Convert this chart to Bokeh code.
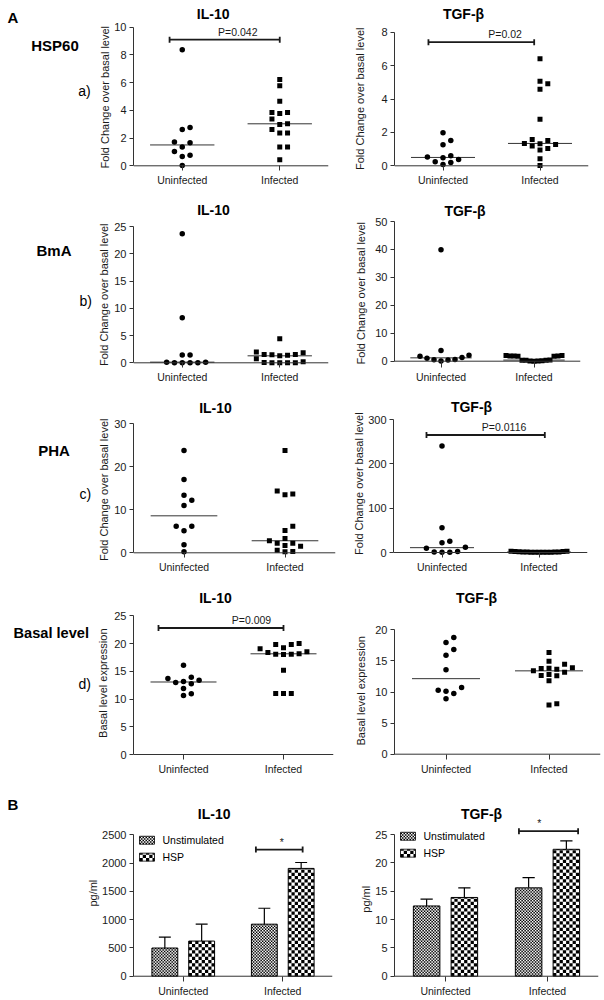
import math
import numpy as np
from bokeh.plotting import figure
from bokeh.layouts import column, row
from bokeh.models import Range1d, FactorRange, FixedTicker, Span
from bokeh.core.properties import value
from bokeh.embed import file_html
from bokeh.resources import INLINE

# ---------------------------------------------------------------- data
groups = ["Uninfected", "Infected"]

# a) HSP60 stimulation - fold change over basal level
hsp_il10_uninf = [8.37, 2.76, 2.62, 1.71, 1.66, 1.35, 1.03, 0.77, 0.67, 0.02]
hsp_il10_inf = [6.23, 5.77, 4.66, 3.85, 3.77, 3.85, 3.37, 3.03, 2.98, 2.62,
                2.36, 2.36, 1.35, 1.35, 0.43]
hsp_tgf_uninf = [1.98, 1.52, 1.26, 0.60, 0.48, 0.52, 0.38, 0.24, 0.20, 0.08]
hsp_tgf_inf = [6.41, 5.07, 4.91, 4.59, 2.79, 1.58, 1.52, 1.34, 1.28, 1.32,
               1.18, 1.04, 0.94, 0.42, 0.02]

# b) BmA stimulation
bma_il10_uninf = [23.65, 8.25, 1.41, 1.41, 0.12, 0.0, 0.0, 0.0, 0.0, 0.12]
bma_il10_inf = [4.4, 1.96, 1.83, 1.53, 1.5, 1.47, 1.4, 1.28, 0.73, 0.2,
                0.06, 0.0, 0.0, 0.0, 0.0]
bma_tgf_uninf = [39.9, 3.8, 2.1, 1.8, 1.3, 1.1, 0.6, 0.5, 0.4, 0.1]
bma_tgf_inf = [1.9, 1.8, 2.0, 1.9, 1.8, 1.9, 2.0, 0.3, 0.1, 0.0,
               0.2, 0.4, 0.3, 0.1, 0.36]

# c) PHA stimulation
pha_il10_uninf = [23.8, 17.05, 13.4, 12.25, 11.0, 6.2, 6.2, 5.1, 1.9, 0.23]
pha_il10_inf = [23.8, 14.4, 13.7, 13.5, 6.2, 5.2, 3.3, 2.8, 2.25, 2.25,
                1.7, 1.55, 0.62, 0.3, 0.23]
pha_tgf_uninf = [240, 56, 25.6, 21.8, 12.0, 9.8, 2.0, 1.0, 0.5, 0.8]
pha_tgf_inf = [3.0, 2.5, 1.5, 1.0, 0.8, 0.5, 1.2, 0.6, 0.9, 0.4,
               1.1, 0.7, 0.5, 2.0, 2.8]

# d) basal level expression
basal_il10_uninf = [16.1, 13.94, 13.4, 12.98, 12.74, 13.16, 13.7, 11.9, 10.94, 10.64]
basal_il10_inf = [20.0, 19.83, 19.83, 19.23, 19.05, 18.39, 18.09, 18.03, 18.09, 18.15,
                  18.5, 15.2, 11.0, 11.0, 11.0]
basal_tgf_uninf = [18.77, 17.96, 16.84, 15.92, 13.57, 10.72, 10.29, 10.13, 9.76, 8.9]
basal_tgf_inf = [16.35, 14.96, 14.48, 13.89, 13.67, 13.78, 13.83, 13.19, 13.4, 12.82,
                 12.6, 12.65, 11.8, 8.1, 7.9]

# B) cytokine levels (pg/ml), mean and SEM
series = ["Unstimulated", "HSP"]
il10_unstim_mean = [499, 921]
il10_unstim_sem = [193, 282]
il10_hsp_mean = [622, 1908]
il10_hsp_sem = [300, 105]
tgf_unstim_mean = [12.4, 15.6]
tgf_unstim_sem = [1.2, 1.8]
tgf_hsp_mean = [13.9, 22.4]
tgf_hsp_sem = [1.7, 1.5]

# significance annotations: (row, col) -> (from, to, level, text, text position)
sig_marks = {
    (0, 0): (0.37, 1.50, 9.1, "P=0.042", 1.07),
    (0, 1): (0.35, 1.44, 7.4, "P=0.02", 1.14),
    (2, 1): (0.34, 1.56, 265, "P=0.0116", 1.14),
    (3, 0): (0.25, 1.50, 22.8, "P=0.009", 1.18),
    (4, 0): (1.23, 1.70, 2242, "*", 1.49),
    (4, 1): (1.22, 1.80, 25.6, "*", 1.42),
}

# ---------------------------------------------------------------- style / layout
FONT = "Liberation Sans"
INK = "#1a1a1a"
AXC = "#333333"
ROWS = [0, 190, 385, 575, 778, 999]
FRAME_TOP = [0, 195, 392, 583, 790]
FRAME_BOT = [169, 366, 556, 758, 981]
LABEL_W = [92, 92, 92, 92, 60]
SPLIT, RIGHT = 345, 603
FC = "Fold Change over basal level"
BL = "Basal level expression"
NBSP = "\u00a0"


def base_fig(width, height, x_range, y_range, bl, br, bt, bb, axes=True):
    kw = {} if axes else dict(x_axis_location=None, y_axis_location=None)
    p = figure(width=width, height=height, x_range=x_range, y_range=y_range,
               min_border_left=bl, min_border_right=br, min_border_top=bt,
               min_border_bottom=bb, output_backend="svg", toolbar_location=None, **kw)
    p.outline_line_color = None
    p.grid.visible = False
    p.background_fill_color = "white"
    p.border_fill_color = "white"
    return p


def make_panel(r, c, fl, fr, y0, ytop, top, step, ylabel, lab_cx, lab_cy):
    rt, rb = ROWS[r], ROWS[r + 1]
    ft, fb = FRAME_TOP[r], FRAME_BOT[r]
    fig_l, fig_r = (LABEL_W[r], SPLIT) if c == 0 else (SPLIT, RIGHT)
    fl = int(round(fl))
    fr = int(round(min(fr, fig_r - 2)))
    ppu_y = (y0 - ytop) / top
    ppu_x = (fr - fl) / 2.0
    p = base_fig(fig_r - fig_l, rb - rt, FactorRange(factors=groups),
                 Range1d(-(fb - y0) / ppu_y, top + (ytop - ft) / ppu_y),
                 fl - fig_l, fig_r - fr, ft - rt, rb - fb)

    ya = p.yaxis[0]
    ya.bounds = (0, top)
    ya.ticker = FixedTicker(ticks=list(range(0, top + 1, step)))
    ya.major_tick_out = 4
    ya.major_tick_in = 0
    ya.minor_tick_line_color = None
    ya.axis_line_color = AXC
    ya.major_tick_line_color = AXC
    ya.major_label_text_font = FONT
    ya.major_label_text_font_size = "11px"
    ya.major_label_text_color = INK
    ya.major_label_standoff = 3
    # the axis label is centred on the frame: pad it so that it sits where the reference has it
    shift = lab_cy - (ft + fb) / 2.0
    n = int(round(2 * abs(shift) / (0.278 * 11)))
    ya.axis_label = ylabel + NBSP * n if shift > 0 else NBSP * n + ylabel
    ya.axis_label_text_font = FONT
    ya.axis_label_text_font_size = "11px"
    ya.axis_label_text_font_style = "normal"
    ya.axis_label_text_color = INK
    w = 0.556 * 11 * len(str(top))
    ya.axis_label_standoff = max(0, int(round((fl - lab_cx) - 13.5 - w)))

    xa = p.xaxis[0]
    xa.axis_line_color = None
    xa.major_tick_in = fb - int(round(y0))
    xa.major_tick_out = 1
    xa.major_tick_line_color = AXC
    xa.minor_tick_line_color = None
    xa.major_label_text_font = FONT
    xa.major_label_text_font_size = "10.5px"
    xa.major_label_text_font_style = "normal"
    xa.major_label_text_color = INK
    xa.major_label_standoff = 3
    p.add_layout(Span(location=0, dimension="width", line_color=AXC, line_width=1))
    geo = dict(fl=fl, y0=y0, ppu_x=ppu_x, ppu_y=ppu_y)
    return p, geo


def make_label_fig(r):
    rt, rb = ROWS[r], ROWS[r + 1]
    ft, fb = FRAME_TOP[r], FRAME_BOT[r]
    W = LABEL_W[r]
    p = base_fig(W, rb - rt, Range1d(0, W), Range1d(fb, ft), 0, 0, ft - rt, rb - fb, axes=False)
    geo = dict(fl=0, y0=0, ppu_x=1.0, ppu_y=-1.0)
    return p, geo


def dx(geo, X):
    return (X - geo["fl"]) / geo["ppu_x"]


def dy(geo, Y):
    return (geo["y0"] - Y) / geo["ppu_y"]


def ptext(p, geo, X, Y, text, size, bold=False, align="center", baseline="middle"):
    p.text(x=[dx(geo, X)], y=[dy(geo, Y)], text=[text], text_font=value(FONT),
           text_font_size=value(size), text_font_style=value("bold" if bold else "normal"),
           text_align=value(align), text_baseline=value(baseline), text_color="black")


def swarm(vals, geo):
    vals = np.asarray(vals, float)
    order = np.argsort(vals, kind="stable")
    placed = []
    cols = np.zeros(len(vals))
    cand = [0] + [s * k for k in range(1, 30) for s in (1, -1)]
    for i in order:
        ypx = vals[i] * geo["ppu_y"]
        for cc in cand:
            if all(pc != cc or abs(py - ypx) >= 6.0 for pc, py in placed):
                break
        placed.append((cc, ypx))
        cols[i] = cc
    m = np.abs(cols).max()
    stp = 7.8
    if m * stp > 28:
        stp = 28.0 / m
    return cols * stp / geo["ppu_x"]


def dots(p, geo, uninf, inf):
    for gi, (vals, marker, size) in enumerate([(uninf, "circle", 5.5), (inf, "square", 5)]):
        vals = np.asarray(vals, float)
        cx = gi + 0.5
        med = float(np.median(vals))
        p.segment(x0=[cx - 0.33], y0=[med], x1=[cx + 0.33], y1=[med],
                  line_color=AXC, line_width=1)
        p.scatter(x=cx + swarm(vals, geo), y=vals, marker=marker, size=size,
                  fill_color="black", line_color=None)


def sig(p, geo, spec):
    x0, x1, y, text, tx = spec
    h = 3.0 / geo["ppu_y"]
    p.segment(x0=[x0, x0, x1], y0=[y, y - h, y - h], x1=[x1, x0, x1], y1=[y, y + h, y + h],
              line_color=INK, line_width=1.8)
    p.text(x=[tx], y=[y + 2.0 / geo["ppu_y"]], text=[text], text_font=value(FONT),
           text_font_size=value("10.5px"), text_align=value("center"),
           text_baseline=value("bottom"), text_color=INK)


def checker_px(p, geo, xl, xr, yt, yb, s):
    """black/white checker texture inside a pixel box (decoration of a bar)."""
    L, R, B, T = [], [], [], []
    nx = int(math.ceil((xr - xl) / s))
    ny = int(math.ceil((yb - yt) / s))
    for i in range(nx):
        for j in range(ny):
            if (i + j) % 2 == 0:
                a0, a1 = xl + i * s, min(xl + (i + 1) * s, xr)
                b0, b1 = yb - j * s, max(yb - (j + 1) * s, yt)
                L.append(dx(geo, a0)); R.append(dx(geo, a1))
                B.append(dy(geo, b0)); T.append(dy(geo, b1))
    p.quad(left=L, right=R, bottom=B, top=T, fill_color="black", line_color=None)


dot_specs = [
    (0, 0, hsp_il10_uninf, hsp_il10_inf, 133, 328, 165.3, 26.7, 10, 2, FC, 107, 96, "IL-10", 212.7, 13.0),
    (0, 1, hsp_tgf_uninf, hsp_tgf_inf, 394, 588, 165.3, 31.7, 8, 2, FC, 362, 99, "TGF-β", 463, 13.0),
    (1, 0, bma_il10_uninf, bma_il10_inf, 133, 328, 362.3, 226, 25, 5, FC, 106, 293.5, "IL-10", 213, 209.5),
    (1, 1, bma_tgf_uninf, bma_tgf_inf, 394, 580, 360.7, 221, 50, 10, FC, 363, 292.5, "TGF-β", 464.5, 210),
    (2, 0, pha_il10_uninf, pha_il10_inf, 133, 335, 552.3, 423.3, 30, 10, FC, 106, 490, "IL-10", 215, 407),
    (2, 1, pha_tgf_uninf, pha_tgf_inf, 393, 587, 552, 419, 300, 100, FC, 363, 483.5, "TGF-β", 471, 406),
    (3, 0, basal_il10_uninf, basal_il10_inf, 133, 333, 754, 615.3, 25, 5, BL, 105, 683, "IL-10", 215, 597),
    (3, 1, basal_tgf_uninf, basal_tgf_inf, 394, 600, 753.7, 629.3, 20, 5, BL, 363, 691, "TGF-β", 476, 597),
]

side_labels = {
    0: [("A", 7, 17, "15px", True), ("HSP60", 30.7, 44.7, "15px", True), ("a)", 77.7, 90, "14px", False)],
    1: [("BmA", 36, 249.5, "15px", True), ("b)", 79, 300, "14px", False)],
    2: [("PHA", 37.7, 449.5, "15px", True), ("c)", 79, 493, "14px", False)],
    3: [("Basal level", 13, 632.5, "14.6px", True), ("d)", 78, 683, "14px", False)],
    4: [("B", 7, 804, "15px", True)],
}

panels = {}
for (r, c, un, inf, fl, fr, y0, ytop, top, stp, ylab, lcx, lcy, title, tx, ty) in dot_specs:
    p, geo = make_panel(r, c, fl, fr, y0, ytop, top, stp, ylab, lcx, lcy)
    dots(p, geo, un, inf)
    ptext(p, geo, tx, ty, title, "14px", bold=True)
    if (r, c) in sig_marks:
        sig(p, geo, sig_marks[(r, c)])
    panels[(r, c)] = p

# ---------------------------------------------------------------- bar charts (B)
bar_specs = [
    (4, 0, il10_unstim_mean, il10_unstim_sem, il10_hsp_mean, il10_hsp_sem,
     133, 332, 976.7, 834.7, 2500, 500, 96, 893, "IL-10", 213.7, 813.5, (139, 840, 162)),
    (4, 1, tgf_unstim_mean, tgf_unstim_sem, tgf_hsp_mean, tgf_hsp_sem,
     394, 598, 976.7, 834.3, 25, 5, 368, 899, "TGF-β", 481, 814, (400, 836, 423)),
]
SQ = [1.5, 3.25]          # checker square size (px) for Unstimulated / HSP
BAR_OFF = [-0.185, 0.185]
BAR_W = 0.26
for (r, c, um, us, hm, hs, fl, fr, y0, ytop, top, stp, lcx, lcy, title, tx, ty, leg) in bar_specs:
    p, geo = make_panel(r, c, fl, fr, y0, ytop, top, stp, "pg/ml", lcx, lcy)
    centers = np.arange(len(groups)) + 0.5
    for k, (mean, sem) in enumerate([(um, us), (hm, hs)]):
        xs = centers + BAR_OFF[k]
        mean = np.asarray(mean, float)
        sem = np.asarray(sem, float)
        p.segment(x0=xs, y0=mean, x1=xs, y1=mean + sem, line_color="black", line_width=1.2)
        p.segment(x0=xs - 0.06, y0=mean + sem, x1=xs + 0.06, y1=mean + sem,
                  line_color="black", line_width=1.2)
        p.vbar(x=xs, top=mean, bottom=0, width=BAR_W, fill_color="white", line_color=None)
        for xc, m in zip(xs, mean):
            xl_px = geo["fl"] + (xc - BAR_W / 2) * geo["ppu_x"]
            xr_px = geo["fl"] + (xc + BAR_W / 2) * geo["ppu_x"]
            checker_px(p, geo, xl_px, xr_px, geo["y0"] - m * geo["ppu_y"], geo["y0"], SQ[k])
        p.vbar(x=xs, top=mean, bottom=0, width=BAR_W, fill_color=None,
               line_color="black", line_width=1)
    # legend
    lx, ly, ltx = leg
    for k, name in enumerate(series):
        yc = ly + 17 * k
        p.quad(left=[dx(geo, lx)], right=[dx(geo, lx + 15)], top=[dy(geo, yc - 4)],
               bottom=[dy(geo, yc + 4)], fill_color="white", line_color=None)
        checker_px(p, geo, lx, lx + 15, yc - 4, yc + 4, SQ[k])
        p.quad(left=[dx(geo, lx)], right=[dx(geo, lx + 15)], top=[dy(geo, yc - 4)],
               bottom=[dy(geo, yc + 4)], fill_color=None, line_color="black", line_width=0.8)
        ptext(p, geo, ltx, yc, name, "10.5px", align="left")
    ptext(p, geo, tx, ty, title, "14px", bold=True)
    sig(p, geo, sig_marks[(r, c)])
    panels[(r, c)] = p

rows = []
for r in range(5):
    lp, lgeo = make_label_fig(r)
    for (text, X, Y, size, bold) in side_labels[r]:
        ptext(lp, lgeo, X, Y, text, size, bold=bold, align="left")
    rows.append(row(lp, panels[(r, 0)], panels[(r, 1)]))

layout = column(*rows)

open("out.html", "w").write(file_html(layout, INLINE))
